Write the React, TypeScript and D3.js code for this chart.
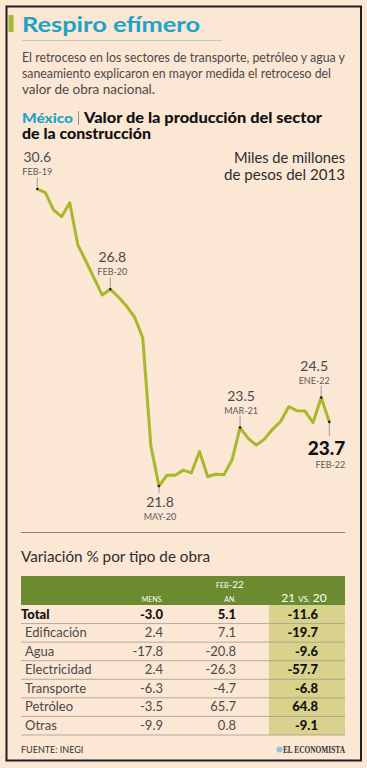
import { useMemo } from "react";
import * as d3 from "d3";

const W = 367;
const H = 768;

// monthly value, Feb-2019 .. Feb-2022 (miles de millones de pesos de 2013)
const months = [
  "FEB-19", "MAR-19", "ABR-19", "MAY-19", "JUN-19", "JUL-19", "AGO-19", "SEP-19", "OCT-19",
  "NOV-19", "DIC-19", "ENE-20", "FEB-20", "MAR-20", "ABR-20", "MAY-20", "JUN-20", "JUL-20",
  "AGO-20", "SEP-20", "OCT-20", "NOV-20", "DIC-20", "ENE-21", "FEB-21", "MAR-21", "ABR-21",
  "MAY-21", "JUN-21", "JUL-21", "AGO-21", "SEP-21", "OCT-21", "NOV-21", "DIC-21", "ENE-22",
  "FEB-22",
];
const values = [
  30.6, 30.49, 29.98, 29.78, 30.19, 28.94, 28.46, 27.96, 27.46,
  27.63, 27.4, 27.13, 26.8, 26.19, 22.99, 21.8, 22.12, 22.12,
  22.27, 22.19, 22.82, 22.08, 22.15, 22.13, 22.57, 23.53, 23.21,
  23.01, 23.19, 23.48, 23.71, 24.15, 24.03, 24.02, 23.68, 24.42,
  23.7,
];

// callouts as printed on the original (index = point the tick touches)
const callouts = [
  { index: 0, value: "30.6", date: "FEB-19", side: "up", dx: 0, bold: false },
  { index: 9, value: "26.8", date: "FEB-20", side: "up", dx: 2, bold: false },
  { index: 15, value: "21.8", date: "MAY-20", side: "down", dx: 1, bold: false },
  { index: 25, value: "23.5", date: "MAR-21", side: "up", dx: 1, bold: false },
  { index: 35, value: "24.5", date: "ENE-22", side: "up", dx: -7, bold: false },
  { index: 36, value: "23.7", date: "FEB-22", side: "down", dx: 0, bold: true },
];

// table: variación % por tipo de obra
const rowNames = ["Total", "Edificación", "Agua", "Electricidad", "Transporte", "Petróleo", "Otras"];
const mensual = ["-3.0", "2.4", "-17.8", "2.4", "-6.3", "-3.5", "-9.9"];
const anual = ["5.1", "7.1", "-20.8", "-26.3", "-4.7", "65.7", "0.8"];
const anio21vs20 = ["-11.6", "-19.7", "-9.6", "-57.7", "-6.8", "64.8", "-9.1"];

const BG = "#fce6d4";
const TEAL = "#1ba3c8";
const LINE = "#a8b82c";
const HEAD_GREEN = "#6c8a2f";
const KHAKI = "#d8d28c";
const FONT = "Lato, 'Open Sans', sans-serif";

const App = () => {
  const xScale = useMemo(
    () => d3.scaleLinear().domain([0, months.length - 1]).range([37.3, 329.3]),
    []
  );
  const yScale = useMemo(() => d3.scaleLinear().domain([21.8, 30.6]).range([486, 189]), []);

  const linePath = d3
    .line<number>()
    .x((_, i) => xScale(i))
    .y((d) => yScale(d))(values);

  // table geometry
  const rowScale = d3.scaleBand().domain(rowNames).range([605, 735]);
  const rowH = rowScale.bandwidth();
  const tableLeft = 21;
  const tableRight = 345;

  return (
    <svg
      width={W}
      height={H}
      style={{ position: "absolute", left: 0, top: 0, fontFamily: FONT }}
    >
      <rect x={0} y={0} width={W} height={H} fill={BG} />
      <rect x={6.5} y={6.5} width={354.5} height={754} fill="none" stroke="#1f1f1f" strokeWidth={2} />

      {/* title block */}
      <rect x={8.5} y={15} width={5} height={17} fill="#a9b832" />
      <text x={22} y={32} fontSize={21} fontWeight={700} fill={TEAL} textLength={178} lengthAdjust="spacingAndGlyphs">
        Respiro efímero
      </text>
      <line x1={22} x2={222} y1={40.5} y2={40.5} stroke="#9fc4cc" strokeWidth={0.8} />
      <g fontSize={13} fill="#4a4a4a">
        <text x={22} y={62} textLength={323} lengthAdjust="spacingAndGlyphs">
          El retroceso en los sectores de transporte, petróleo y agua y
        </text>
        <text x={22} y={78} textLength={309} lengthAdjust="spacingAndGlyphs">
          saneamiento explicaron en mayor medida el retroceso del
        </text>
        <text x={22} y={94} textLength={133} lengthAdjust="spacingAndGlyphs">
          valor de obra nacional.
        </text>
      </g>
      <g fontWeight={900}>
        <text x={22} y={122.5} fontSize={14} fill={TEAL} textLength={51} lengthAdjust="spacingAndGlyphs">México</text>
        <rect x={78} y={111} width={0.9} height={14} fill="#888" />
        <text x={84} y={122.5} fontSize={15} fill="#111" textLength={238} lengthAdjust="spacingAndGlyphs">
          Valor de la producción del sector
        </text>
        <text x={22} y={139} fontSize={15} fill="#111" textLength={129} lengthAdjust="spacingAndGlyphs">
          de la construcción
        </text>
      </g>

      {/* units */}
      <g fontSize={15} fill="#2d2d2d" textAnchor="end">
        <text x={345} y={163} textLength={111} lengthAdjust="spacingAndGlyphs">Miles de millones</text>
        <text x={345} y={180} textLength={121} lengthAdjust="spacingAndGlyphs">de pesos del 2013</text>
      </g>

      {/* line */}
      <path d={linePath ?? ""} fill="none" stroke={LINE} strokeWidth={3} strokeLinejoin="round" />

      {/* callouts */}
      {callouts.map((c) => {
        const px = xScale(c.index);
        const py = yScale(values[c.index]);
        const up = c.side === "up";
        const tx = c.bold ? px + 16 : px + c.dx;
        const anchor = c.bold ? "end" : "middle";
        const tickEnd = up ? py - 12 : py + (c.bold ? 14 : 7);
        const valueY = up ? py - 27 : c.bold ? py + 33 : py + 21;
        const dateY = up ? py - 14 : c.bold ? py + 46 : py + 34;
        return (
          <g key={c.date}>
            <line x1={px} x2={px} y1={py} y2={tickEnd} stroke="#8a8a8a" strokeWidth={0.8} />
            <circle cx={px} cy={py} r={1.3} fill="#222" />
            <text
              x={tx}
              y={valueY}
              textAnchor={anchor}
              fontSize={c.bold ? 19 : 14}
              fontWeight={c.bold ? 900 : 400}
              fill={c.bold ? "#111" : "#4a4a4a"}
            >
              {c.value}
            </text>
            <text x={tx} y={dateY} textAnchor={anchor} fontSize={9} fill="#5a5a5a">
              {c.date}
            </text>
          </g>
        );
      })}

      <line x1={21} x2={345} y1={532.5} y2={532.5} stroke="#8c8276" strokeWidth={1} />

      {/* table */}
      <text x={21} y={562} fontSize={15} fill="#2d2d2d" textLength={189} lengthAdjust="spacingAndGlyphs">
        Variación % por tipo de obra
      </text>
      <rect x={tableLeft} y={576} width={tableRight - tableLeft} height={29} fill={HEAD_GREEN} />
      <rect x={269} y={605} width={tableRight - 269} height={130} fill={KHAKI} />
      <g fill="#fff">
        <text x={230} y={588} textAnchor="middle">
          <tspan fontSize={7}>FEB</tspan>
          <tspan fontSize={10}>-22</tspan>
        </text>
        <text x={163} y={602} textAnchor="end" fontSize={7}>MENS.</text>
        <text x={236} y={602} textAnchor="end" fontSize={7}>AN.</text>
        <text x={304} y={602} textAnchor="middle" fontSize={12}>
          21 <tspan fontSize={8}>VS.</tspan> 20
        </text>
      </g>
      {rowNames.map((name, i) => {
        const y0 = rowScale(name) ?? 0;
        const base = y0 + rowH - 5;
        const isTotal = i === 0;
        return (
          <g key={name}>
            <line
              x1={tableLeft}
              x2={tableRight}
              y1={y0 + rowH}
              y2={y0 + rowH}
              stroke="#a19a90"
              strokeWidth={0.8}
            />
            <text
              x={isTotal ? tableLeft : 25}
              y={base}
              fontSize={13}
              fontWeight={isTotal ? 900 : 400}
              fill={isTotal ? "#111" : "#4a4a4a"}
            >
              {name}
            </text>
            <text
              x={163}
              y={base}
              textAnchor="end"
              fontSize={13}
              fontWeight={isTotal ? 900 : 400}
              fill={isTotal ? "#111" : "#4a4a4a"}
            >
              {mensual[i]}
            </text>
            <text
              x={236}
              y={base}
              textAnchor="end"
              fontSize={13}
              fontWeight={isTotal ? 900 : 400}
              fill={isTotal ? "#111" : "#4a4a4a"}
            >
              {anual[i]}
            </text>
            <text x={318} y={base} textAnchor="end" fontSize={13} fontWeight={900} fill="#111">
              {anio21vs20[i]}
            </text>
          </g>
        );
      })}

      {/* footer */}
      <text x={21} y={753} fontSize={9} fill="#333">FUENTE: INEGI</text>
      <circle cx={279.5} cy={749.5} r={3} fill="#8fc6d8" />
      <g transform="translate(345,753) scale(0.78,1)">
        <text
          x={0}
          y={0}
          textAnchor="end"
          fontSize={9.5}
          fontWeight={700}
          fill="#333"
          fontFamily="'Liberation Serif', serif"
        >
          EL ECONOMISTA
        </text>
      </g>
    </svg>
  );
};

export default App;
